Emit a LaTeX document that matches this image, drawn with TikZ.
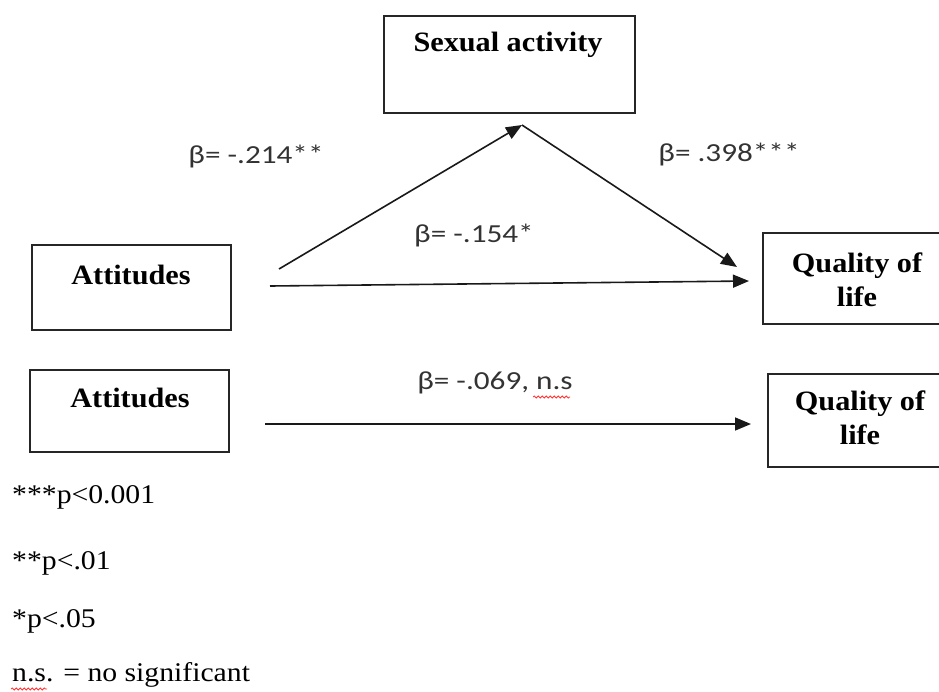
\documentclass[tikz,border=0pt]{standalone}
\usepackage{fontspec}
\setmainfont{Liberation Serif}
\newfontfamily\calibri[FakeStretch=1.2]{Carlito}
\newfontfamily\boxfont[FakeStretch=1.08]{Liberation Serif}
\newfontfamily\legfont[FakeStretch=1.1]{Liberation Serif}
\usetikzlibrary{arrows.meta,decorations.pathmorphing}
\begin{document}
\begin{tikzpicture}[x=1pt,y=-1pt,
  box/.style={draw=black!85, line width=1.6pt, inner sep=0pt},
  boxtext/.style={font=\boxfont\fontsize{28}{34}\selectfont\bfseries, align=center, inner sep=0pt},
  coef/.style={font=\calibri\fontsize{26}{30}\selectfont, text=black!80, inner sep=0pt},
  legend/.style={font=\legfont\fontsize{27}{30}\selectfont, anchor=west, inner sep=0pt},
  conn/.style={line width=1.6pt, draw=black!90, -{Triangle[length=16pt,width=13pt]}},
  squig/.style={draw=red!80, line width=0.8pt, decorate, decoration={snake, amplitude=1pt, segment length=4pt}}]
\useasboundingbox (0,0) rectangle (939,691);
% boxes
\node[box, minimum width=251pt, minimum height=97pt] (sa) at (509.5,64.5) {};
\node[box, minimum width=199pt, minimum height=85pt] (att1) at (131.5,287.5) {};
\node[box, minimum width=182pt, minimum height=91pt] (qol1) at (854,278.5) {};
\node[box, minimum width=199pt, minimum height=82pt] (att2) at (129.5,411) {};
\node[box, minimum width=177pt, minimum height=93pt] (qol2) at (856.5,420.5) {};
% box texts
\node[boxtext] (tsa) at (508,45) {Sexual activity};
\node[boxtext] (tatt1) at (131,275) {Attitudes};
\node[boxtext] (tatt2) at (130,398) {Attitudes};
\node[boxtext] (tqol1) at (857,280) {Quality of\\life};
\node[boxtext] (tqol2) at (860,418) {Quality of\\life};
% connector ends
\coordinate (a1s) at (279,269);
\coordinate (apex) at (522,125);
\coordinate (a2e) at (737,267);
\coordinate (a3s) at (270,286);
\coordinate (a3e) at (749,281);
\coordinate (a4s) at (265,424);
\coordinate (a4e) at (751,424);
\draw[conn] (a1s) -- (apex);
\draw[conn] (apex) -- (a2e);
\draw[conn] (a3s) -- (a3e);
\draw[conn] (a4s) -- (a4e);
% coefficients
\node[coef] (c1) at (256,157) {β= -.214**};
\node[coef] (c2) at (729,155) {β= .398***};
\node[coef] (c3) at (474,236) {β= -.154*};
\node[coef] (c4) at (495,383) {β= -.069, n.s};
\draw[squig] (533,397) -- (570,397);
% legend
\node[legend] (l1) at (12,497) {***p<0.001};
\node[legend] (l2) at (12,563) {**p<.01};
\node[legend] (l3) at (12,621) {*p<.05};
\node[legend] (l4) at (12,675) {n.s. = no significant};
\draw[squig] (11,689) -- (47,689);
\end{tikzpicture}
\end{document}
